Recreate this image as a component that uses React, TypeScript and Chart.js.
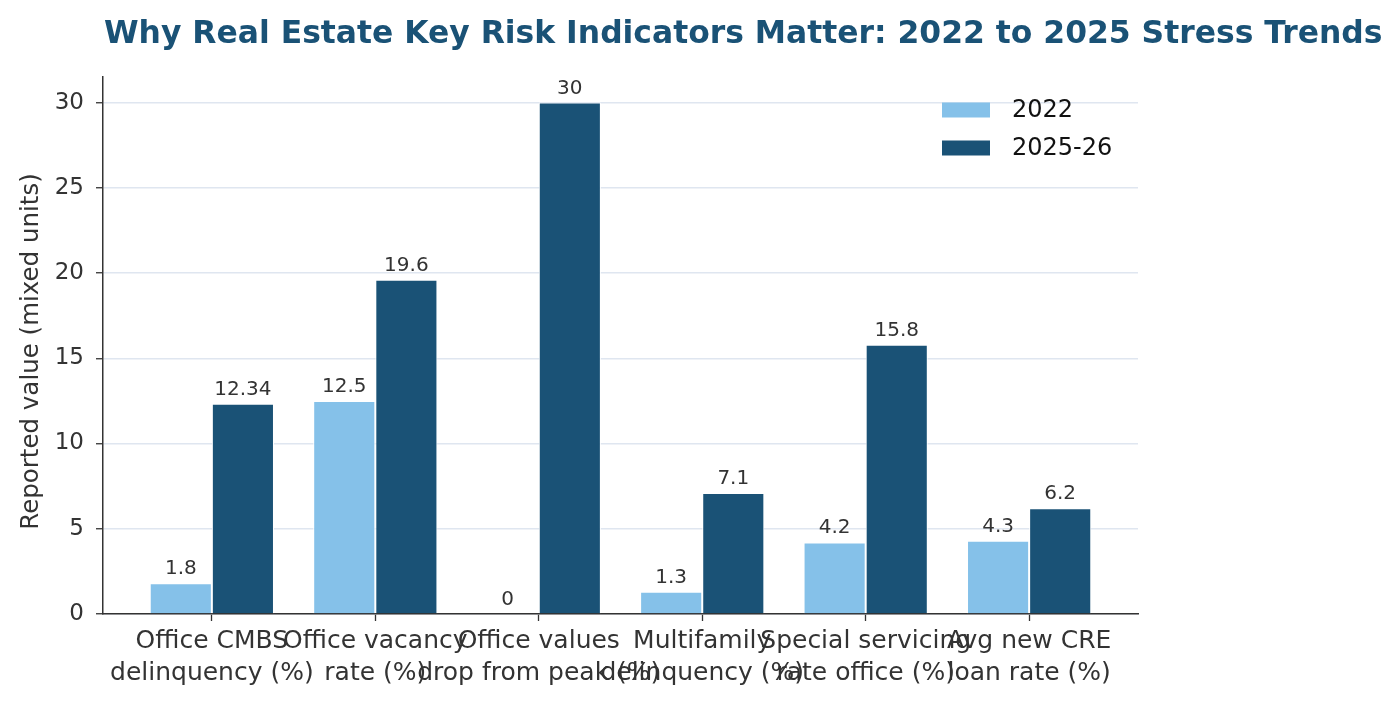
import React, { useEffect, useRef } from "react";
import { Chart, registerables } from "chart.js";

Chart.register(...registerables);

const TITLE = "Why Real Estate Key Risk Indicators Matter: 2022 to 2025 Stress Trends";
const Y_LABEL = "Reported value (mixed units)";
const CATEGORIES: string[][] = [
  ["Office CMBS", "delinquency (%)"],
  ["Office vacancy", "rate (%)"],
  ["Office values", "drop from peak (%)"],
  ["Multifamily", "delinquency (%)"],
  ["Special servicing", "rate office (%)"],
  ["Avg new CRE", "loan rate (%)"],
];
const SERIES_NAMES = ["2022", "2025-26"];
const VALUES_2022 = [1.8, 12.5, 0, 1.3, 4.2, 4.3];
const VALUES_2025 = [12.34, 19.6, 30, 7.1, 15.8, 6.2];
const LABELS_2022 = ["1.8", "12.5", "0", "1.3", "4.2", "4.3"];
const LABELS_2025 = ["12.34", "19.6", "30", "7.1", "15.8", "6.2"];
const Y_TICKS = [0, 5, 10, 15, 20, 25, 30];

const LIGHT = "#85C1E9";
const DARK = "#1A5276";
const TEXT = "#333333";
const FONT = "'DejaVu Sans', sans-serif";

const overlayPlugin = {
  id: "overlay",
  afterDatasetsDraw(chart: any) {
    const ctx = chart.ctx;
    const area = chart.chartArea;
    ctx.save();
    // title
    ctx.fillStyle = DARK;
    ctx.font = `bold 31.4px ${FONT}`;
    ctx.textAlign = "left";
    ctx.textBaseline = "alphabetic";
    ctx.fillText(TITLE, 104, 43);
    // y label
    ctx.save();
    ctx.translate(38, (area.top + area.bottom) / 2 + 6);
    ctx.rotate(-Math.PI / 2);
    ctx.fillStyle = TEXT;
    ctx.font = `24.5px ${FONT}`;
    ctx.textAlign = "center";
    ctx.textBaseline = "alphabetic";
    ctx.fillText(Y_LABEL, 0, 0);
    ctx.restore();
    // data labels
    const allLabels = [LABELS_2022, LABELS_2025];
    ctx.font = `20px ${FONT}`;
    ctx.fillStyle = TEXT;
    ctx.textAlign = "center";
    ctx.textBaseline = "alphabetic";
    chart.data.datasets.forEach((ds: any, di: number) => {
      const meta = chart.getDatasetMeta(di);
      meta.data.forEach((bar: any, i: number) => {
        ctx.fillText(allLabels[di][i], bar.x, bar.y - 9);
      });
    });
    // legend
    const colors = [LIGHT, DARK];
    ctx.font = `24px ${FONT}`;
    ctx.textBaseline = "middle";
    ctx.textAlign = "left";
    SERIES_NAMES.forEach((name, i) => {
      const cy = 110 + i * 38;
      ctx.fillStyle = colors[i];
      ctx.fillRect(942, cy - 7.5, 48, 15);
      ctx.fillStyle = "#111111";
      ctx.fillText(name, 1012, cy + 1);
    });
    ctx.restore();
  },
};

export default function App() {
  const ref = useRef<HTMLCanvasElement | null>(null);
  useEffect(() => {
    document.body.style.margin = "0";
    const canvas = ref.current;
    if (!canvas) return;
    const chart = new Chart(canvas, {
      type: "bar",
      data: {
        datasets: [
          {
            label: SERIES_NAMES[0],
            data: VALUES_2022.map((v, i) => ({ x: i, y: v })),
            backgroundColor: LIGHT,
            borderColor: "#ffffff",
            borderWidth: 1,
            categoryPercentage: 0.76,
            barPercentage: 1,
          },
          {
            label: SERIES_NAMES[1],
            data: VALUES_2025.map((v, i) => ({ x: i, y: v })),
            backgroundColor: DARK,
            borderColor: "#ffffff",
            borderWidth: 1,
            categoryPercentage: 0.76,
            barPercentage: 1,
          },
        ],
      },
      options: {
        responsive: false,
        animation: false,
        events: [],
        layout: { padding: { top: 77, right: 262, left: 0, bottom: 0 } },
        plugins: { legend: { display: false }, title: { display: false }, tooltip: { enabled: false } },
        scales: {
          x: {
            type: "linear",
            min: -0.666,
            max: 5.666,
            offset: false,
            afterBuildTicks: (scale: any) => {
              scale.ticks = CATEGORIES.map((_, i) => ({ value: i }));
            },
            afterFit: (scale: any) => {
              scale.height = 91;
            },
            grid: {
              display: true,
              offset: false,
              drawOnChartArea: false,
              drawTicks: true,
              tickLength: 7,
              tickColor: TEXT,
              tickWidth: 1.3,
            },
            border: { display: true, color: TEXT, width: 1.5 },
            ticks: {
              autoSkip: false,
              maxRotation: 0,
              minRotation: 0,
              padding: 4,
              color: TEXT,
              font: { family: FONT, size: 25, lineHeight: 1.3 },
              callback: (v: any) => CATEGORIES[Math.round(Number(v))] || "",
            },
          },
          y: {
            min: 0,
            max: 31.5,
            afterBuildTicks: (scale: any) => {
              scale.ticks = Y_TICKS.map((v) => ({ value: v }));
            },
            afterFit: (scale: any) => {
              scale.width = 103;
            },
            grid: {
              color: "#dfe6f0",
              lineWidth: 1.5,
              drawTicks: true,
              tickLength: 7,
              tickColor: TEXT,
              tickWidth: 1.3,
            },
            border: { display: true, color: TEXT, width: 1.5 },
            ticks: {
              padding: 12,
              color: TEXT,
              font: { family: FONT, size: 23 },
              callback: (v: any) => String(v),
            },
          },
        },
      },
      plugins: [overlayPlugin],
    } as any);
    return () => chart.destroy();
  }, []);
  return (
    <div style={{ width: 1400, height: 705, background: "#fff" }}>
      <canvas ref={ref} width={1400} height={705} style={{ display: "block" }} />
    </div>
  );
}
